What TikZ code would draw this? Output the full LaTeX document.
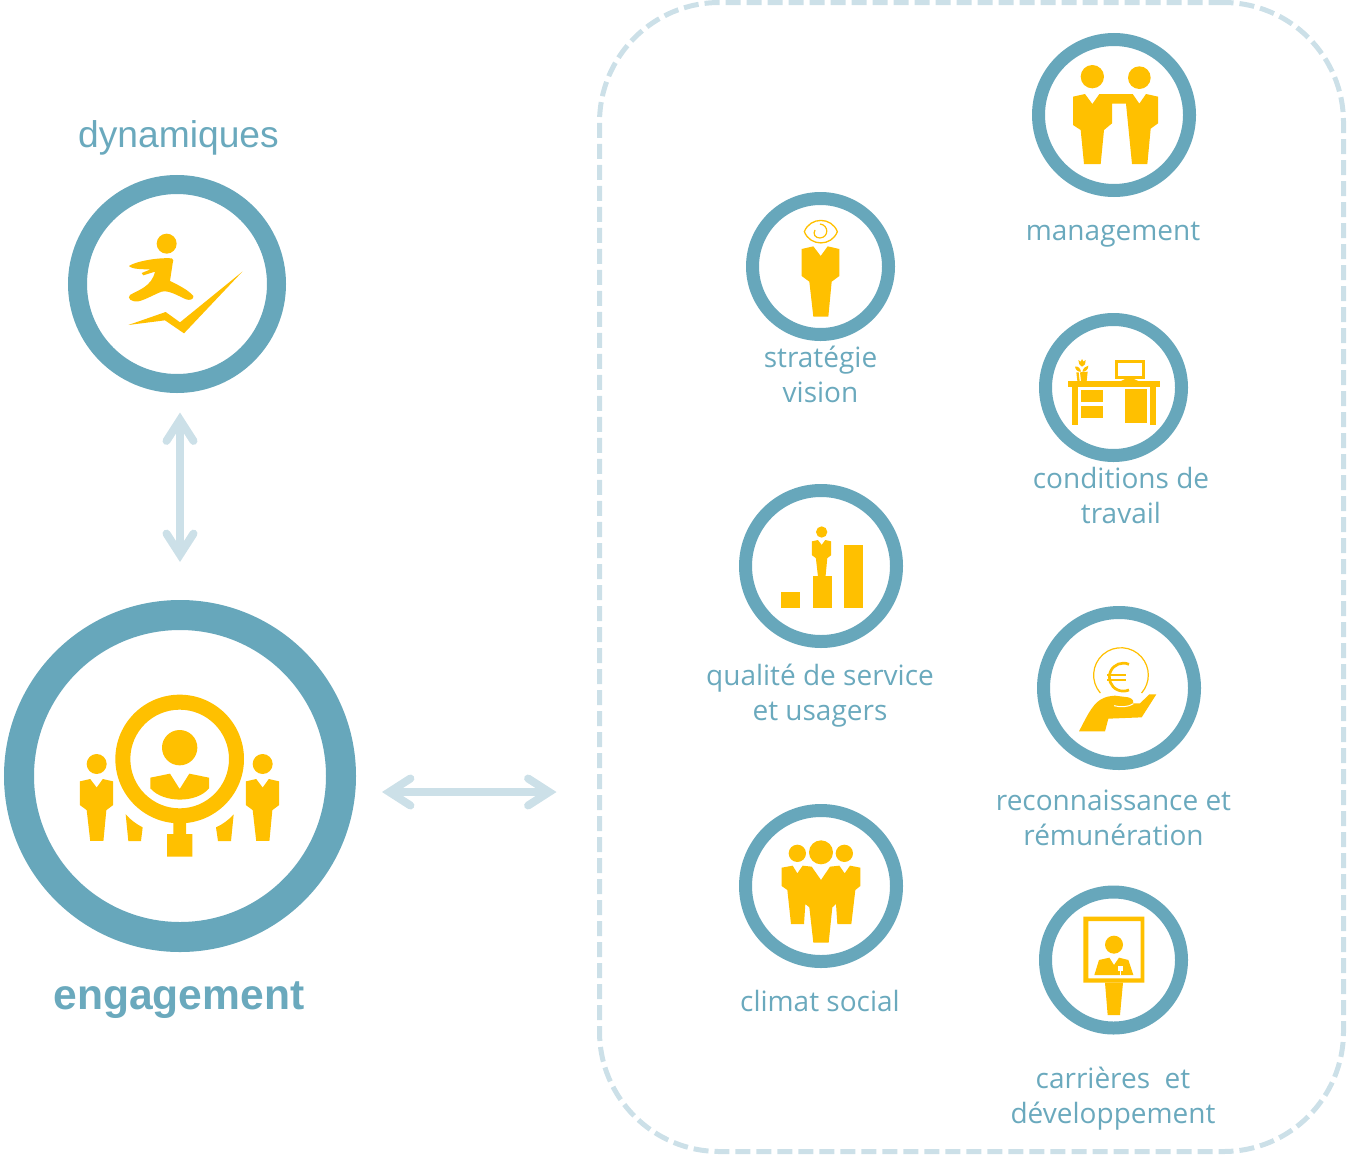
\documentclass[tikz,border=0pt]{standalone}
\usepackage{fontspec}
\setmainfont{Liberation Sans}
\newfontfamily\labelfont{Open Sans}
\usetikzlibrary{arrows.meta}
\definecolor{ringc}{HTML}{67A7BB}
\definecolor{gold}{HTML}{FFC000}
\definecolor{palec}{HTML}{CCE0E8}
\definecolor{textc}{HTML}{6AA9BD}
\tikzset{
  ring/.style n args={2}{circle,draw=ringc,fill=white,inner sep=0pt,outer sep=0pt,minimum size=#1,line width=#2},
  lab/.style={text=textc,font=\labelfont\fontsize{28}{35}\selectfont,align=center,inner sep=0pt},
  barbtip/.tip={Straight Barb[line cap=round,line join=miter,length=21pt,width=27pt,line width=8pt]},
  biarrow/.style={draw=palec,line width=8pt,barbtip-barbtip},
  zoomat/.style 2 args={shift={(#1,#2)},scale=0.33333}
}
\newcommand{\figbody}[3]{\fill[gold,shift={(#1,#2)},scale=#3] (-57,8)--(-22,0)--(0,29)--(21,0)--(56,8)--(56,89)--(33,106)--(23,211)--(-22,211)--(-34,106)--(-57,89)--cycle;}
\begin{document}
\begin{tikzpicture}[x=1pt,y=-1pt]
\useasboundingbox (0,0) rectangle (1348,1159);
% dashed frame
\node[draw=palec,line width=5pt,dash pattern=on 15pt off 6pt,rounded corners=120pt,minimum width=744pt,minimum height=1149pt,inner sep=0pt,outer sep=0pt] (box) at (971.5,577) {};
% rings
\node[ring={199pt}{19pt}] (dyn) at (177,284) {};
\node[ring={322pt}{30pt}] (eng) at (180,776) {};
\node[ring={151pt}{13pt}] (mgmt) at (1114,115) {};
\node[ring={136pt}{13pt}] (strat) at (820.5,266.5) {};
\node[ring={136pt}{13pt}] (cond) at (1113.5,387.5) {};
\node[ring={151pt}{13pt}] (qual) at (821,566) {};
\node[ring={151pt}{13pt}] (recon) at (1119,688) {};
\node[ring={151pt}{13pt}] (clim) at (821,886) {};
\node[ring={136pt}{13pt}] (carr) at (1113.5,960) {};
% arrows
\coordinate (hy) at (0,792);
\draw[biarrow,shorten <=41pt,shorten >=43pt] (eng.east |- hy) -- (box.west |- hy);
\draw[biarrow,shorten <=29pt,shorten >=53pt] (dyn.south -| eng.north) -- (eng.north);
% labels
\node[text=textc,font=\fontsize{37.2}{40}\selectfont,inner sep=0pt] (tdyn) at (178.5,138) {dynamiques};
\node[text=textc,font=\bfseries\fontsize{42.6}{45}\selectfont,inner sep=0pt] (teng) at (179,1000) {engagement};
\node[lab] (tmgmt) at (1113,235) {management};
\node[lab] (tstrat) at (820.5,374) {stratégie\\vision};
\node[lab] (tcond) at (1121,495) {conditions de\\travail};
\node[lab] (tqual) at (820,695.5) {qualité de service\\et usagers};
\node[lab] (trecon) at (1113.5,818) {reconnaissance et\\rémunération};
\node[lab] (tclim) at (820,1001) {climat social};
\node[lab] (tcarr) at (1113,1099) {carrières\ \ et\\développement};
% runner
\begin{scope}[zoomat={60}{170}]
\fill[gold] (320,221) circle[radius=30];
\fill[gold] (207,288) .. controls (225,275) and (290,262) .. (335,265) .. controls (342,267) and (340,272) .. (338,280) -- (330,333) .. controls (355,345) and (385,360) .. (400,378) .. controls (402,388) and (390,392) .. (378,388) .. controls (350,375) and (325,360) .. (305,365) .. controls (285,372) and (255,390) .. (235,394) .. controls (215,397) and (200,385) .. (210,375) .. controls (235,360) and (275,350) .. (285,305) -- (250,316) -- (245,309) -- (272,298) .. controls (250,298) and (215,298) .. (207,288) -- cycle;
\fill[gold] (205,465)--(317,426)--(360,457)--(547,305)--(372,490)--(315,451)--cycle;
\end{scope}
% engagement
\begin{scope}[zoomat={60}{680}]
\fill[gold,even odd rule] (359,237) circle[radius=193] (359,237) circle[radius=148];
\fill[gold] (359,203) circle[radius=53];
\fill[gold] (271,293)--(330,281)--(359,327)--(388,281)--(447,293)--(447,325) .. controls (410,370) and (310,370) .. (271,325)--cycle;
\fill[gold] (110,252) circle[radius=30];
\fill[gold] (608,252) circle[radius=30];
\figbody{110}{297}{0.88}
\figbody{608}{297}{0.88}
\fill[gold] (340,425)--(378,425)--(378,462)--(397,462)--(397,530)--(321,530)--(321,462)--(340,462)--cycle;
\fill[gold] (197,403) .. controls (212,420) and (230,433) .. (248,442)--(243,483)--(205,483)--cycle;
\fill[gold] (521,403) .. controls (506,420) and (488,433) .. (468,442)--(474,483)--(513,483)--cycle;
\end{scope}
% management
\begin{scope}[zoomat={1040}{40}]
\fill[gold] (157,110) circle[radius=35];
\fill[gold] (298,113) circle[radius=34];
\fill[gold] (99,170)--(135,162)--(157,192)--(178,162)--(278,162)--(298,191)--(318,162)--(354,170)--(354,250)--(332,266)--(322,372)--(276,372)--(258,191)--(216,191)--(216,250)--(192,270)--(182,372)--(132,372)--(122,270)--(99,255)--cycle;
\end{scope}
% strategy
\begin{scope}[zoomat={750}{200}]
\figbody{212}{139}{1}
\draw[gold,line width=1.3pt] (163,95) .. controls (180,50) and (245,50) .. (262,95) .. controls (245,140) and (180,140) .. (163,95) -- cycle;
\draw[gold,line width=1.2pt] (210,72) .. controls (237,75) and (237,112) .. (210,114) .. controls (195,114) and (188,102) .. (195,90);
\end{scope}
% desk
\begin{scope}[zoomat={1045}{320}]
\fill[gold] (70,183) rectangle (345,201);
\fill[gold] (82,201) rectangle (99,315);
\fill[gold] (315,201) rectangle (332,315);
\fill[gold] (107,211) rectangle (173,247);
\fill[gold] (107,257) rectangle (173,294);
\fill[gold] (241,207) rectangle (307,308);
\draw[gold,line width=3pt] (213.5,124.5) rectangle (294.5,171);
\fill[gold] (245,175)--(262,175)--(280,183)--(228,183)--cycle;
\fill[gold] (105,157)--(128,155)--(125,183)--(108,183)--cycle;
\fill[gold] (94,157)--(101,157)--(104,183)--(97,183)--cycle;
\fill[gold] (90,140) .. controls (100,138) and (106,145) .. (108,155) .. controls (98,156) and (92,150) .. (90,140)--cycle;
\fill[gold] (130,137) .. controls (122,138) and (114,145) .. (112,155) .. controls (122,156) and (130,148) .. (130,137)--cycle;
\fill[gold] (100,120)--(107,125)--(111,117)--(115,125)--(122,120)--(120,133)--(111,140)--(103,133)--cycle;
\end{scope}
% quality
\begin{scope}[zoomat={750}{500}]
\fill[gold] (93,276) rectangle (150,324);
\fill[gold] (189,228) rectangle (246,324);
\fill[gold] (282,135) rectangle (339,324);
\fill[gold] (215,96) circle[radius=17];
\figbody{215}{120}{0.512}
\end{scope}
% recognition
\begin{scope}[zoomat={1050}{620}]
\draw[gold,line width=1.2pt] (151,219) arc[start angle=139,end angle=401,radius=82];
\draw[gold,line width=2.7pt] (237,133) arc[start angle=294,end angle=66,radius=42];
\draw[gold,line width=1.8pt] (172,165)--(228,165) (172,180)--(228,180);
\fill[gold] (87,334) .. controls (105,300) and (125,255) .. (150,240) .. controls (165,230) and (180,228) .. (195,227) -- (235,232) .. controls (250,236) and (252,246) .. (250,250) -- (270,250) -- (298,223) -- (319,223) -- (275,292) -- (175,296) -- (165,334) -- cycle;
\draw[white,line width=1pt] (192,257) .. controls (210,262) and (235,262) .. (250,251);
\end{scope}
% social climate
\begin{scope}[zoomat={750}{820}]
\fill[gold] (142,100) circle[radius=26];
\fill[gold] (213,97) circle[radius=36];
\fill[gold] (283,100) circle[radius=26];
\fill[gold] (95,143)--(128,137)--(142,160)--(158,137)--(185,140)--(213,180)--(240,140)--(268,137)--(284,160)--(300,137)--(331,143)--(331,198)--(316,210)--(304,312)--(262,312)--(258,252)--(247,262)--(236,368)--(190,368)--(178,262)--(166,252)--(162,312)--(123,312)--(112,210)--(95,198)--cycle;
\end{scope}
% career
\begin{scope}[zoomat={1045}{890}]
\fill[gold,even odd rule] (115,80) rectangle (298,278) (130,93) rectangle (287,265);
\fill[gold] (207,164) circle[radius=27];
\fill[gold] (148,255)--(162,210)--(193,203)--(207,225)--(222,203)--(250,210)--(265,255)--cycle;
\fill[white] (220,228) rectangle (233,243);
\fill[white] (224,243) rectangle (229,255);
\fill[gold] (180,278)--(234,278)--(225,375)--(188,375)--cycle;
\end{scope}
\end{tikzpicture}
\end{document}
